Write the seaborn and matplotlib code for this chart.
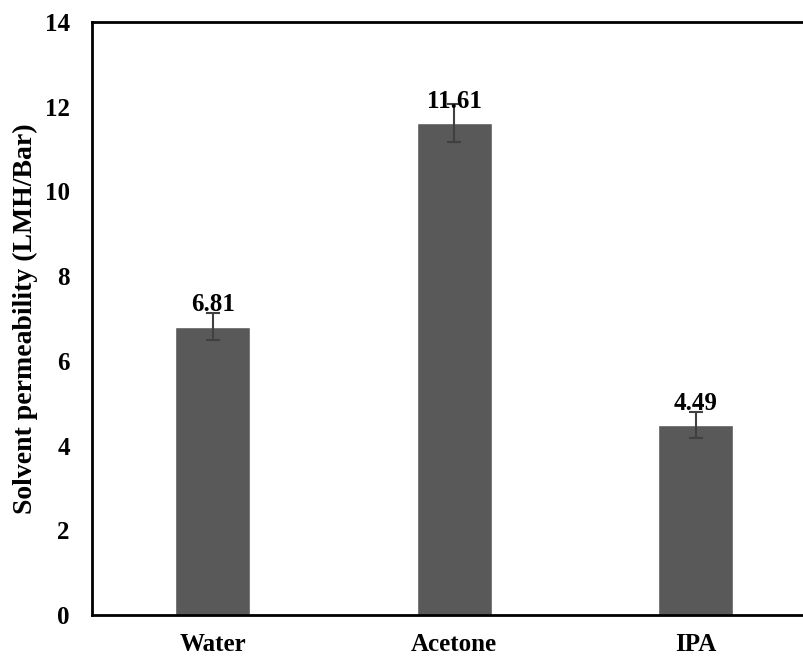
import matplotlib
matplotlib.use("Agg")
import matplotlib.pyplot as plt
import seaborn as sns
import pandas as pd

solvents = ["Water", "Acetone", "IPA"]
permeability = [6.81, 11.61, 4.49]
errors = [0.32, 0.45, 0.30]
y_ticks = [0, 2, 4, 6, 8, 10, 12, 14]

sns.set_theme(style="white")
plt.rcParams["font.family"] = ["Liberation Serif", "DejaVu Serif"]
plt.rcParams["font.weight"] = "bold"
plt.rcParams["text.color"] = "black"
plt.rcParams["axes.labelcolor"] = "black"
plt.rcParams["xtick.color"] = "black"
plt.rcParams["ytick.color"] = "black"

df = pd.DataFrame({"solvent": solvents, "permeability": permeability})

fig = plt.figure(figsize=(8.04, 6.56), dpi=100)
ax = fig.add_axes([0.1144, 0.0625, 0.901, 0.904])

sns.barplot(data=df, x="solvent", y="permeability", color="#595959",
            saturation=1, width=0.31, ax=ax, errorbar=None, zorder=2)
ax.errorbar(range(len(solvents)), permeability, yerr=errors, fmt="none",
            ecolor="#404040", elinewidth=1.5, capsize=5, capthick=1.5,
            zorder=3)

for i, v in enumerate(permeability):
    ax.text(i, v + 0.36, f"{v:.2f}", ha="center", va="baseline",
            fontsize=18, fontweight="bold", color="black", zorder=4)

ax.set_xlim(-0.5, 2.5)
ax.set_ylim(0, 14)
ax.set_yticks(y_ticks)
ax.set_yticklabels([str(t) for t in y_ticks], fontsize=18, fontweight="bold")
ax.set_xticks(range(len(solvents)))
ax.set_xticklabels(solvents, fontsize=18, fontweight="bold")
ax.tick_params(axis="y", length=0, pad=16)
ax.tick_params(axis="x", length=0, pad=13)
ax.set_xlabel("")
ax.set_ylabel("Solvent permeability (LMH/Bar)", fontsize=20, fontweight="bold",
              labelpad=5)

for side in ["left", "bottom", "top"]:
    ax.spines[side].set_visible(True)
    ax.spines[side].set_color("black")
    ax.spines[side].set_linewidth(2)
ax.spines["right"].set_visible(False)

fig.savefig("out.png", dpi=100)
